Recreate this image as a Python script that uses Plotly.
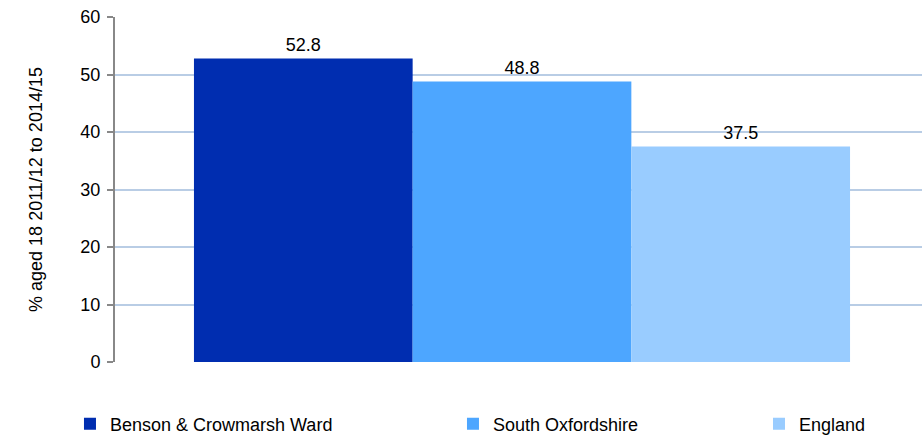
import plotly.graph_objects as go

series_names = ["Benson & Crowmarsh Ward", "South Oxfordshire", "England"]
values = [52.8, 48.8, 37.5]
colors = ["#002DB0", "#4DA6FF", "#99CCFF"]
category = [""]
y_ticks = [0, 10, 20, 30, 40, 50, 60]

FONT = "Liberation Sans, Arial, sans-serif"
FS = 18

fig = go.Figure()
legend_ids = ["legend", "legend2", "legend3"]
legend_x = [0.0759, 0.4913, 0.8232]
for name, v, c, lg in zip(series_names, values, colors, legend_ids):
    fig.add_trace(go.Bar(
        x=category, y=[v], name=name, marker_color=c, marker_line_width=0,
        text=[f"{v:.1f}"], textposition="outside", cliponaxis=False,
        textfont=dict(size=FS, color="#000000", family=FONT),
        legend=lg, showlegend=True,
    ))

legend_common = dict(orientation="h", yanchor="middle", xanchor="left",
                     font=dict(size=FS, color="#000000", family=FONT),
                     bgcolor="rgba(0,0,0,0)", xref="container", yref="container",
                     visible=True)
layout_legends = {}
for lg, lx in zip(legend_ids, legend_x):
    layout_legends[lg] = dict(legend_common, x=lx, y=1 - 424 / 437)

fig.update_layout(
    width=922, height=437, showlegend=True,
    margin=dict(l=115, r=0, t=17, b=75, autoexpand=False),
    plot_bgcolor="white", paper_bgcolor="white",
    barmode="group", bargap=0.194, bargroupgap=0,
    font=dict(family=FONT, size=FS, color="#000000"),
    xaxis=dict(range=[-0.5, 0.4914], showticklabels=False, showgrid=False,
               zeroline=False, showline=False, ticks="", automargin=False),
    yaxis=dict(range=[0, 60], tickvals=y_ticks, showgrid=True,
               gridcolor="#B9CDE5", gridwidth=1.5, zeroline=False,
               showline=True, linecolor="#888888", linewidth=2,
               ticks="outside", ticklen=6, tickcolor="#888888", tickwidth=2,
               ticklabelstandoff=3, automargin=False,
               tickfont=dict(size=FS, family=FONT),
               title=dict(text="% aged 18 2011/12 to 2014/15",
                          font=dict(size=FS, family=FONT), standoff=33)),
    **layout_legends,
)

fig.write_html("out.html", config={"displayModeBar": False},
               post_script="document.body.style.margin='0';")
